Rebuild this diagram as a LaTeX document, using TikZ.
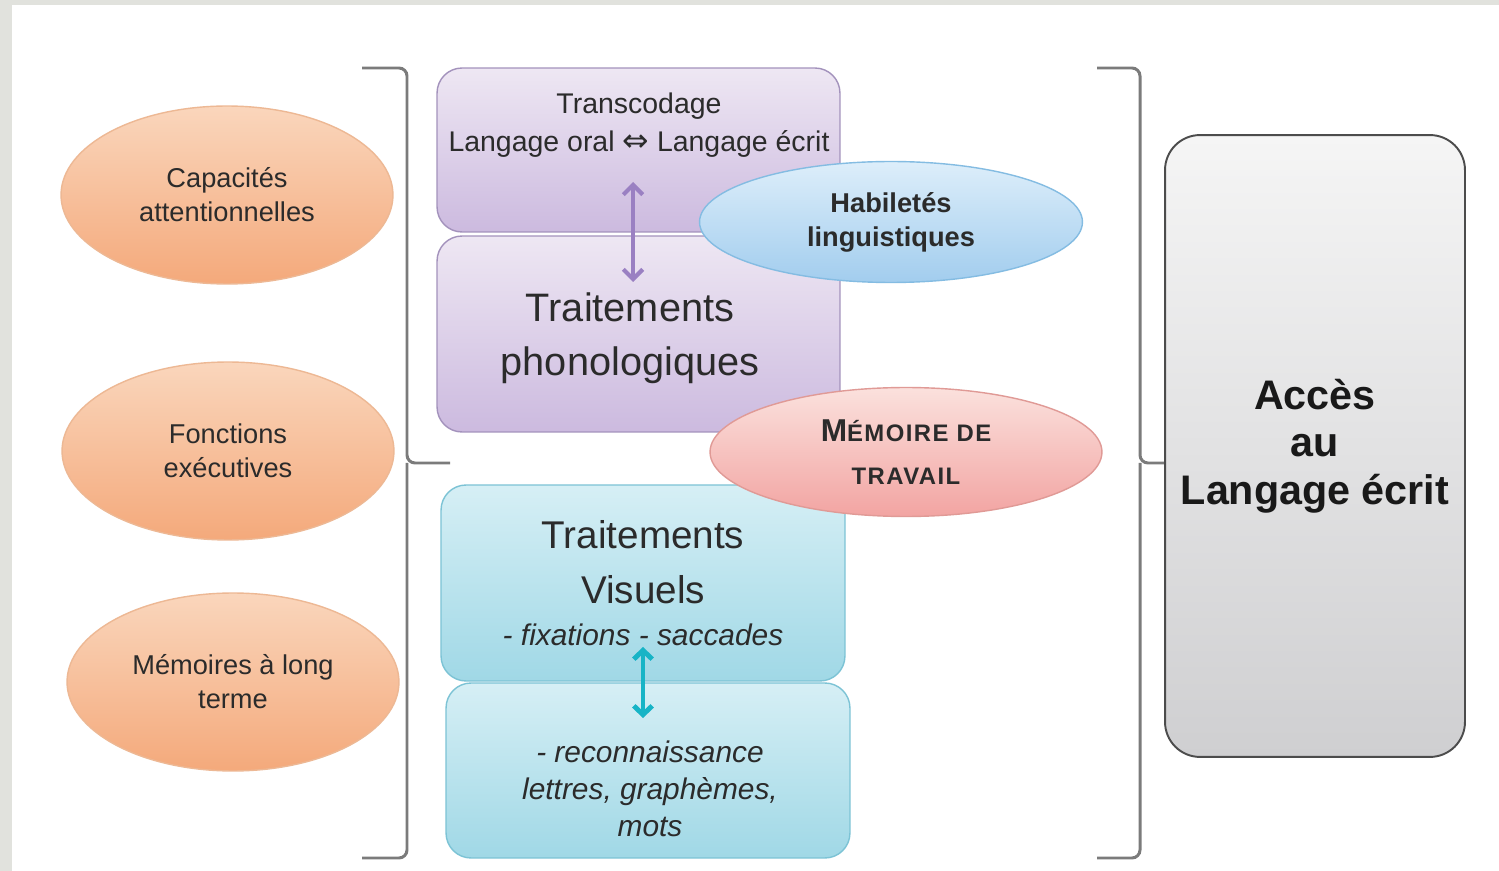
\documentclass[tikz,border=0pt]{standalone}
\usepackage{fontspec}
\setmainfont{Liberation Sans}
\newfontfamily\symfont{DejaVu Sans}
\newfontfamily\scfont[LetterSpace=6]{Liberation Sans}
\usepackage{xcolor}
\usepackage{tikz}
\usetikzlibrary{arrows.meta,shapes.geometric}
\definecolor{framegray}{HTML}{E1E2DD}
\definecolor{txt}{HTML}{2B2B2B}
\definecolor{orangetop}{HTML}{FAD6BC}
\definecolor{orangebot}{HTML}{F4A97B}
\definecolor{orangeline}{HTML}{EDB894}
\definecolor{mauvetop}{HTML}{EEE7F3}
\definecolor{mauvebot}{HTML}{CCBADF}
\definecolor{mauveline}{HTML}{A392BC}
\definecolor{mauvearrow}{HTML}{9A80C2}
\definecolor{bluetop}{HTML}{DDEEFA}
\definecolor{bluebot}{HTML}{A2CDEE}
\definecolor{blueline}{HTML}{84BCE2}
\definecolor{pinktop}{HTML}{FBE1DD}
\definecolor{pinkbot}{HTML}{F2A4A2}
\definecolor{pinkline}{HTML}{E09A96}
\definecolor{cyantop}{HTML}{D6EFF5}
\definecolor{cyanbot}{HTML}{A0D8E6}
\definecolor{cyanline}{HTML}{7CC3D5}
\definecolor{cyanarrow}{HTML}{17B4C6}
\definecolor{graytop}{HTML}{F5F5F5}
\definecolor{graybot}{HTML}{CFCFD1}
\definecolor{bracketgray}{HTML}{7B7B7B}

\begin{document}
\begin{tikzpicture}[x=0.02cm,y=-0.02cm]
    \tikzstyle{skill} = [ellipse,draw=orangeline,line width=0.8pt,top color=orangetop,bottom color=orangebot,minimum width=6.64cm,minimum height=3.56cm,align=center,text=txt,font=\fontsize{15.5}{19.3}\selectfont]
    \tikzstyle{phonobox} = [draw=mauveline,line width=0.8pt,rounded corners=0.5cm,top color=mauvetop,bottom color=mauvebot,minimum width=8.06cm,align=center,text=txt]
    \tikzstyle{visubox} = [draw=cyanline,line width=0.8pt,rounded corners=0.5cm,top color=cyantop,bottom color=cyanbot,minimum width=8.08cm,align=center,text=txt]
    \tikzstyle{bracket} = [draw=bracketgray,line width=1.7pt,rounded corners=0.16cm]
        \fill[framegray] (0,0) rectangle (1499,871);
        \fill[white] (12,5) rectangle (1499,871);
        \path[use as bounding box] (0,0) rectangle (1499,871);
        \node[skill] (capa) at (227,195) {Capacités\\attentionnelles};
        \node[skill] (fonc) at (228,451) {Fonctions\\exécutives};
        \node[skill] (memlt) at (233,682) {Mémoires à long\\terme};
        \draw[bracket] (362,68) -| (407,463) -- (450,463);
        \draw[bracket] (362,858) -| (407,463);
        \draw[bracket] (1097,68) -| (1140,463) -- (1190,463);
        \draw[bracket] (1097,858) -| (1140,463);
        \node[phonobox,minimum height=3.28cm] (trans) at (638.5,150) {};
        \node[text=txt,align=center,font=\fontsize{16.2}{22}\selectfont] (transtxt) at (639,125) {Transcodage\\Langage oral {\symfont\fontsize{18}{22}\selectfont ⇔} Langage écrit};
        \node[phonobox,minimum height=3.92cm] (phono) at (638.5,334) {};
        \node[text=txt,align=center,font=\fontsize{22.6}{31}\selectfont] (phonotxt) at (630,338) {Traitements\\phonologiques};
        \coordinate (pa) at (633,182);
        \coordinate (pb) at (633,282);
        \draw[mauvearrow,line width=2.4pt,{Straight Barb[length=5.5pt,width=11pt]}-{Straight Barb[length=5.5pt,width=11pt]}] (pa) -- (pb);
        \node[ellipse,draw=blueline,line width=0.8pt,top color=bluetop,bottom color=bluebot,minimum width=7.66cm,minimum height=2.42cm,align=center,text=txt,font=\bfseries\fontsize{15.5}{19.3}\selectfont] (hab) at (891,222) {Habiletés\\linguistiques};
        \node[visubox,minimum height=3.92cm,font=\fontsize{22}{31}\selectfont] (vis) at (643,583) {Traitements\\Visuels\\[-7pt]{\itshape\fontsize{17}{21}\selectfont - fixations - saccades}};
        \node[visubox,minimum height=3.5cm] (reco) at (648,770.5) {};
        \node[text=txt,align=center,font=\itshape\fontsize{17}{21}\selectfont] (recotxt) at (650,789) {- reconnaissance\\lettres, graphèmes,\\mots};
        \node[ellipse,draw=pinkline,line width=0.8pt,top color=pinktop,bottom color=pinkbot,minimum width=7.84cm,minimum height=2.58cm,align=center,text=txt,font=\scfont\bfseries\fontsize{13.6}{24.4}\selectfont] (mdt) at (906,452) {{\fontsize{18}{24.4}\selectfont M}ÉMOIRE DE\\TRAVAIL};
        \coordinate (va) at (643,647);
        \coordinate (vb) at (643,718);
        \draw[cyanarrow,line width=2.8pt,{Straight Barb[length=5pt,width=10.5pt]}-{Straight Barb[length=5pt,width=10.5pt]}] (va) -- (vb);
        \node[draw=black!70,line width=1.1pt,rounded corners=0.7cm,top color=graytop,bottom color=graybot,minimum width=6cm,minimum height=12.44cm,align=center,text=black!90,font=\bfseries\fontsize{23.5}{27}\selectfont] (acces) at (1315,446) {Accès\\au\\Langage écrit};
    \end{tikzpicture}
\end{document}
